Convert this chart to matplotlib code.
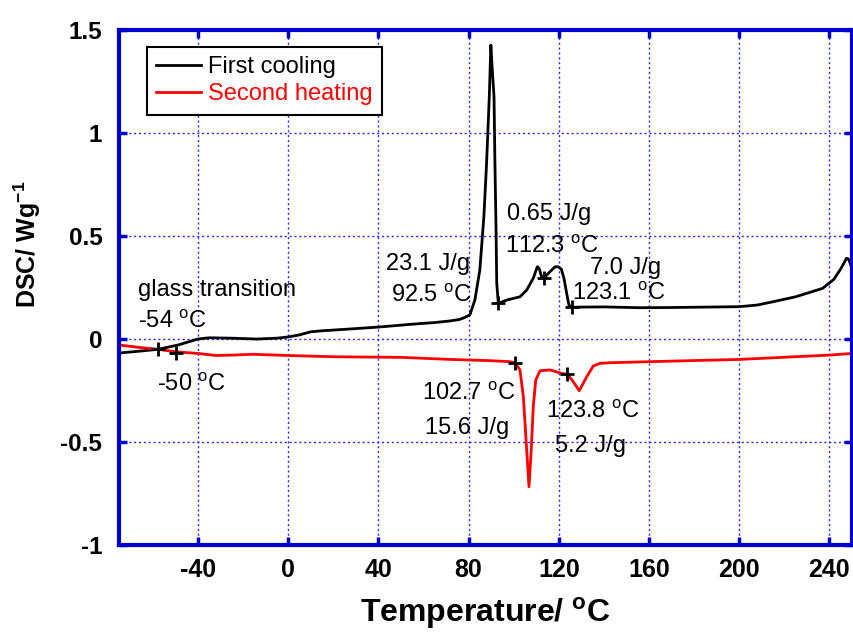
import numpy as np
import matplotlib.pyplot as plt

plt.rcParams['font.family'] = 'Liberation Sans'
plt.rcParams['mathtext.fontset'] = 'custom'
plt.rcParams['mathtext.rm'] = 'Liberation Sans'
plt.rcParams['mathtext.bf'] = 'Liberation Sans:bold'
plt.rcParams['axes.unicode_minus'] = False

# First cooling (black)
cool_T = [-75, -65, -57.7, -48.8, -40, -35, -25, -14, -5, 0, 5, 10, 15, 25, 40, 55, 65, 72, 76, 78,
          80.6, 82.8, 85.0, 86.8, 88.0, 89.2, 89.9, 90.4, 91.3, 91.7, 92.2, 92.5, 93.2,
          96.9, 102.8, 105.8, 108.7, 110.5, 111.3, 112.4, 113.9, 116.1, 118.3, 119.8,
          121.2, 122.3, 123.5, 124.5, 125.7, 130, 140, 156, 170, 185, 200, 208, 215, 225,
          237, 242, 245, 247.6, 248.5, 249.3, 250]
cool_v = [-0.068, -0.058, -0.05, -0.029, 0.0, 0.006, 0.004, 0.0, 0.004, 0.01, 0.02, 0.035, 0.04,
          0.047, 0.058, 0.072, 0.08, 0.088, 0.095, 0.103,
          0.117, 0.189, 0.335, 0.594, 0.854, 1.176, 1.427, 1.33, 1.176, 0.853, 0.529, 0.272, 0.173,
          0.189, 0.205, 0.238, 0.295, 0.351, 0.343, 0.302, 0.301, 0.327, 0.35, 0.351,
          0.338, 0.295, 0.222, 0.165, 0.154, 0.155, 0.156, 0.152, 0.153, 0.155, 0.157, 0.165, 0.181, 0.205,
          0.246, 0.29, 0.34, 0.392, 0.388, 0.365, 0.34]

# Second heating (red)
heat_T = [-75, -65, -57.6, -50, -40, -32, -25, -15.5, 0, 20, 50, 72, 80.6, 89.5, 98.4, 100.6,
          102.8, 104.3, 105.5, 106.8, 107.8, 108.7, 109.8, 111.7, 116.1, 121.3, 123.8, 126.4,
          129.1, 132.4, 135.3, 138.3, 142.7, 160.5, 200, 240, 250]
heat_v = [-0.029, -0.042, -0.05, -0.062, -0.07, -0.08, -0.078, -0.074, -0.08, -0.086, -0.089, -0.099,
          -0.102, -0.105, -0.11, -0.115,
          -0.15, -0.28, -0.49, -0.717, -0.539, -0.329, -0.199, -0.154, -0.15, -0.167, -0.171, -0.207,
          -0.251, -0.183, -0.131, -0.118, -0.115, -0.11, -0.099, -0.078, -0.07]

# "+" marks
cool_mark_T = [-57.7, 93.2, 113.4, 125.7]
cool_mark_v = [-0.05, 0.175, 0.296, 0.154]
heat_mark_T = [-49.6, 100.6, 123.8]
heat_mark_v = [-0.07, -0.115, -0.171]

x_ticks = [-40, 0, 40, 80, 120, 160, 200, 240]
x_tick_labels = ['-40', '0', '40', '80', '120', '160', '200', '240']
y_ticks = [-1, -0.5, 0, 0.5, 1, 1.5]
y_tick_labels = ['-1', '-0.5', '0', '0.5', '1', '1.5']

deg = r'$^{\mathrm{o}}$C'
notes = [
    (-66.6, 0.238, 'glass transition'),
    (-66.6, 0.083, '-54 ' + deg),
    (-58.2, -0.223, '-50 ' + deg),
    (43.4, 0.364, '23.1 J/g'),
    (45.6, 0.209, '92.5 ' + deg),
    (97.0, 0.607, '0.65 J/g'),
    (96.1, 0.451, '112.3 ' + deg),
    (133.8, 0.345, '7.0 J/g'),
    (125.8, 0.223, '123.1 ' + deg),
    (59.3, -0.267, '102.7 ' + deg),
    (60.7, -0.432, '15.6 J/g'),
    (114.3, -0.354, '123.8 ' + deg),
    (118.3, -0.519, '5.2 J/g'),
]

blue = '#0000cc'

fig = plt.figure(figsize=(8.54, 6.35), dpi=100)
ax = fig.add_axes([0.1393, 0.1417, 0.8583, 0.811])

ax.plot(cool_T, cool_v, color='black', lw=2, label='First cooling')
ax.plot(heat_T, heat_v, color='red', lw=2, label='Second heating')
ax.plot(cool_mark_T, cool_mark_v, '+', color='black', ms=10, mew=2)
ax.plot(heat_mark_T, heat_mark_v, '+', color='black', ms=10, mew=2)

for x, y, s in notes:
    ax.text(x, y, s, fontsize=17, ha='left', va='center')

ax.set_xlim(-75, 250)
ax.set_ylim(-1, 1.5)
ax.set_xticks(x_ticks)
ax.set_xticklabels(x_tick_labels)
ax.set_yticks(y_ticks)
ax.set_yticklabels(y_tick_labels)

ax.grid(True, color='#2a2aee', linestyle=(0, (1.5, 2)), lw=1)
for sp in ax.spines.values():
    sp.set_color(blue)
    sp.set_linewidth(3)
ax.tick_params(direction='in', top=True, right=True, color=blue, length=6, width=2.5)
ax.tick_params(axis='y', pad=12)
ax.tick_params(axis='x', pad=9)
for lab in ax.get_yticklabels():
    lab.set_fontsize(17.5)
    lab.set_fontweight('bold')
for lab in ax.get_xticklabels():
    lab.set_fontsize(18)
    lab.set_fontweight('bold')

ax.set_xlabel(r'Temperature/ $^{\mathbf{o}}$C', fontsize=23, fontweight='bold', labelpad=10)
ax.set_ylabel(r'DSC/ Wg$^{\mathbf{-1}}$', fontsize=18, fontweight='bold', va='center')
ax.yaxis.set_label_coords(-0.125, 0.583)

leg = ax.legend(loc='upper left', bbox_to_anchor=(0.038, 0.967), borderaxespad=0,
                fontsize=17, fancybox=False, edgecolor='black', framealpha=1,
                handlelength=1.9, handletextpad=0.3, labelspacing=0.2, borderpad=0.4)
leg.get_frame().set_linewidth(1.5)
for txt, c in zip(leg.get_texts(), ['black', 'red']):
    txt.set_color(c)

fig.savefig('out.png', dpi=100)
